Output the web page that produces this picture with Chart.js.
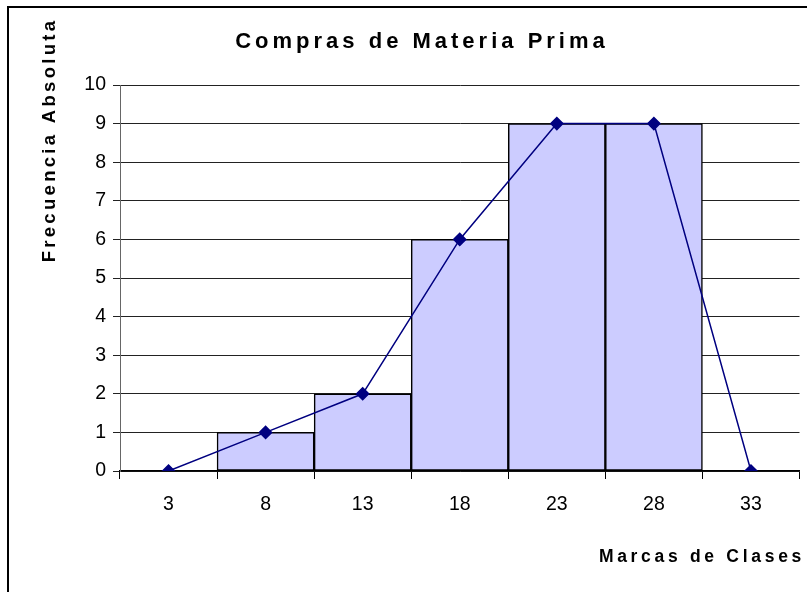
<!DOCTYPE html>
<html>
<head>
<meta charset="utf-8">
<script src="https://cdn.jsdelivr.net/npm/chart.js@4.4.0/dist/chart.umd.min.js"></script>
<style>
  html, body { margin: 0; padding: 0; background: #fff; }
  #myChart { display: block; }
</style>
</head>
<body>
<canvas id="myChart" width="807" height="592"></canvas>
<script>
// datos
const marcas = ['3', '8', '13', '18', '23', '28', '33'];
const frecuencia = [0, 1, 2, 6, 9, 9, 0];
const yMax = 10;
const yStep = 1;

const titulo = 'Compras de Materia Prima';
const tituloY = 'Frecuencia Absoluta';
const tituloX = 'Marcas de Clases';

const ctx = document.getElementById('myChart');
const fuente = "'Liberation Sans', Arial, sans-serif";

// titles + outer frame drawn by hand
const textos = {
    id: 'textos',
    beforeDraw(chart) {
        const c = chart.ctx;
        c.save();
        c.fillStyle = '#fff';
        c.fillRect(0, 0, chart.width, chart.height);
        c.strokeStyle = '#000';
        c.lineWidth = 2;
        c.beginPath();
        c.moveTo(8, chart.height + 5);
        c.lineTo(8, 7);
        c.lineTo(chart.width + 5, 7);
        c.stroke();
        c.restore();
    },
    afterDraw(chart) {
        const c = chart.ctx;
        c.save();
        c.fillStyle = '#000';
        c.textBaseline = 'alphabetic';

        c.font = 'bold 22px ' + fuente;
        c.letterSpacing = '4px';
        c.textAlign = 'center';
        c.fillText(titulo, 422, 48);

        c.font = 'bold 17.5px ' + fuente;
        c.letterSpacing = '3.7px';
        c.textAlign = 'right';
        c.fillText(tituloX, 805, 562);

        c.font = 'bold 18.5px ' + fuente;
        c.translate(55, 140);
        c.rotate(-Math.PI / 2);
        c.textAlign = 'center';
        c.letterSpacing = '3.3px';
        c.fillText(tituloY, 0, 0);
        c.restore();
    }
};

new Chart(ctx, {
    type: 'bar',
    data: {
        labels: marcas,
        datasets: [{
            type: 'line',
            data: frecuencia,
            borderColor: '#000080',
            backgroundColor: '#000080',
            borderWidth: 1.5,
            pointStyle: 'rectRot',
            pointRadius: 6,
            pointHoverRadius: 6,
            tension: 0,
            order: 0
        }, {
            type: 'bar',
            data: frecuencia,
            backgroundColor: '#CCCCFF',
            borderColor: '#000',
            borderWidth: 1.5,
            borderSkipped: false,
            categoryPercentage: 1,
            barPercentage: 1,
            order: 1
        }]
    },
    options: {
        responsive: false,
        animation: false,
        events: [],
        layout: { padding: { top: 85, right: 5, left: 0, bottom: 0 } },
        plugins: {
            legend: { display: false },
            tooltip: { enabled: false }
        },
        scales: {
            x: {
                afterFit: s => { s.height = 121; },
                grid: {
                    offset: true,
                    drawOnChartArea: false,
                    drawTicks: true,
                    tickLength: 8,
                    color: '#000'
                },
                border: { color: '#000', width: 1.5 },
                ticks: {
                    padding: 14,
                    color: '#000',
                    font: { family: fuente, size: 19.5 }
                }
            },
            y: {
                min: 0,
                max: yMax,
                afterFit: s => { s.width = 120; },
                grid: {
                    color: '#222',
                    tickLength: 7,
                    lineWidth: 1
                },
                border: { color: '#666', width: 1 },
                ticks: {
                    stepSize: yStep,
                    padding: 7,
                    color: '#000',
                    font: { family: fuente, size: 19.5 }
                }
            }
        }
    },
    plugins: [textos]
});
</script>
</body>
</html>
